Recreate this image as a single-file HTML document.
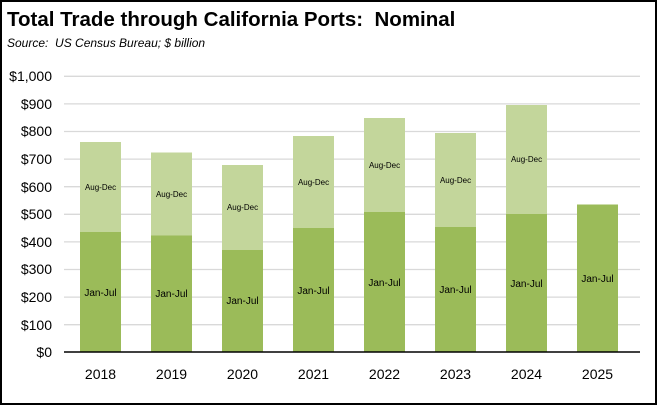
<!DOCTYPE html>
<html><head><style>
body{margin:0;background:#fff}
svg{display:block;font-family:"Liberation Sans",sans-serif}
</style></head><body>
<svg width="658" height="406" viewBox="0 0 658 406" xmlns="http://www.w3.org/2000/svg">
<rect x="1" y="1" width="655" height="403" fill="#fff" stroke="#000" stroke-width="2"/>
<text x="7" y="26" font-size="20.5" font-weight="bold">Total Trade through California Ports:&#160; Nominal</text>
<text x="7" y="47" font-size="12" font-style="italic">Source:&#160; US Census Bureau; $ billion</text>
<g stroke="#d9d9d9" stroke-width="1.3">
<line x1="64" x2="640" y1="76.3" y2="76.3"/><line x1="64" x2="640" y1="103.9" y2="103.9"/>
<line x1="64" x2="640" y1="131.5" y2="131.5"/><line x1="64" x2="640" y1="159.1" y2="159.1"/>
<line x1="64" x2="640" y1="186.7" y2="186.7"/><line x1="64" x2="640" y1="214.3" y2="214.3"/>
<line x1="64" x2="640" y1="241.9" y2="241.9"/><line x1="64" x2="640" y1="269.5" y2="269.5"/>
<line x1="64" x2="640" y1="297.1" y2="297.1"/><line x1="64" x2="640" y1="324.7" y2="324.7"/>
</g>
<g font-size="14" text-anchor="end">
<text x="52" y="81">$1,000</text><text x="52" y="109">$900</text><text x="52" y="136">$800</text>
<text x="52" y="164">$700</text><text x="52" y="192">$600</text><text x="52" y="219">$500</text>
<text x="52" y="247">$400</text><text x="52" y="274">$300</text><text x="52" y="302">$200</text>
<text x="52" y="330">$100</text><text x="52" y="357">$0</text>
</g>
<g>
<rect x="80" y="142" width="41" height="90" fill="#c3d69b"/><rect x="80" y="232" width="41" height="120" fill="#9bbb59"/>
<rect x="151" y="152.5" width="41" height="83" fill="#c3d69b"/><rect x="151" y="235.5" width="41" height="116.5" fill="#9bbb59"/>
<rect x="222" y="165" width="41" height="85" fill="#c3d69b"/><rect x="222" y="250" width="41" height="102" fill="#9bbb59"/>
<rect x="293" y="136" width="41" height="92" fill="#c3d69b"/><rect x="293" y="228" width="41" height="124" fill="#9bbb59"/>
<rect x="364" y="118" width="41" height="94" fill="#c3d69b"/><rect x="364" y="212" width="41" height="140" fill="#9bbb59"/>
<rect x="435" y="133" width="41" height="94" fill="#c3d69b"/><rect x="435" y="227" width="41" height="125" fill="#9bbb59"/>
<rect x="506" y="105" width="41" height="109" fill="#c3d69b"/><rect x="506" y="214" width="41" height="138" fill="#9bbb59"/>
<rect x="577" y="204.5" width="41" height="147.5" fill="#9bbb59"/>
</g>
<line x1="64" x2="640" y1="352" y2="352" stroke="#000" stroke-width="1.5"/>
<g font-size="8" text-anchor="middle">
<text x="100.5" y="190">Aug-Dec</text><text x="171.5" y="197">Aug-Dec</text><text x="242.5" y="210">Aug-Dec</text>
<text x="313.5" y="185">Aug-Dec</text><text x="384.5" y="168">Aug-Dec</text><text x="455.5" y="183">Aug-Dec</text>
<text x="526.5" y="162">Aug-Dec</text>
</g>
<g font-size="10" text-anchor="middle">
<text x="100.5" y="296">Jan-Jul</text><text x="171.5" y="297">Jan-Jul</text><text x="242.5" y="304">Jan-Jul</text>
<text x="313.5" y="294">Jan-Jul</text><text x="384.5" y="286">Jan-Jul</text><text x="455.5" y="293">Jan-Jul</text>
<text x="526.5" y="287">Jan-Jul</text><text x="597.5" y="282">Jan-Jul</text>
</g>
<g font-size="14" text-anchor="middle">
<text x="100.5" y="379">2018</text><text x="171.5" y="379">2019</text><text x="242.5" y="379">2020</text>
<text x="313.5" y="379">2021</text><text x="384.5" y="379">2022</text><text x="455.5" y="379">2023</text>
<text x="526.5" y="379">2024</text><text x="597.5" y="379">2025</text>
</g>
</svg>
</body></html>
